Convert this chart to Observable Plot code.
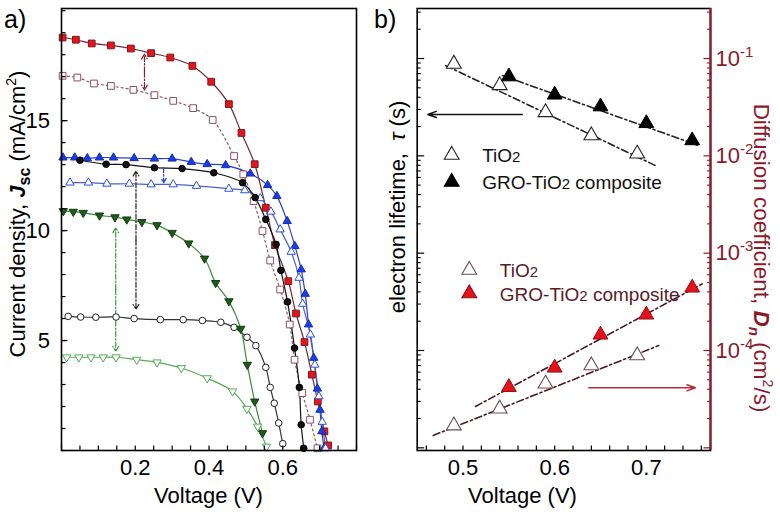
<!DOCTYPE html>
<html><head><meta charset="utf-8">
<script src="https://cdn.jsdelivr.net/npm/d3@7"></script>
<script src="https://cdn.jsdelivr.net/npm/@observablehq/plot@0.6"></script>
<style>
body{margin:0;background:#fff;}
#wrap{position:relative;width:780px;height:512px;}
#pa{position:absolute;left:0;top:0;}
#pb{position:absolute;left:370px;top:0;}
</style></head><body><div id="wrap"><div id="pa"></div><div id="pb"></div></div>
<script>
// ---------- Panel a: J-V curves ----------
const redSqV = [0.003,0.039,0.082,0.134,0.188,0.243,0.295,0.355,0.406,0.454,0.488,0.524,0.554,0.579,0.615,0.636,0.659,0.679,0.695,0.713,0.723];
const redSqJ = [18.78,18.68,18.51,18.42,18.28,18.07,17.87,17.49,16.77,15.75,14.44,13.02,11.04,9.34,7.70,6.23,4.93,3.45,2.23,0.87,0.23];
const openSqV = [0.003,0.043,0.088,0.134,0.195,0.252,0.303,0.357,0.410,0.468,0.493,0.521,0.545,0.566,0.593,0.619,0.632,0.653,0.674,0.694];
const openSqJ = [17.04,16.96,16.69,16.58,16.40,16.16,15.90,15.57,15.03,13.39,12.56,11.34,9.98,8.64,7.32,5.73,4.13,2.61,1.40,0.10];
const blueFV = [0.004,0.036,0.07,0.103,0.141,0.197,0.252,0.30,0.352,0.395,0.445,0.512,0.559,0.584,0.612,0.633,0.65,0.661,0.670,0.684,0.694,0.701,0.706,0.712];
const blueFJ = [13.32,13.32,13.29,13.32,13.32,13.29,13.27,13.27,13.12,13.02,12.97,12.59,12.07,11.57,10.43,9.29,8.23,7.12,5.73,4.21,2.81,1.85,0.87,0.1];
const blueOV = [0.023,0.073,0.123,0.184,0.243,0.303,0.366,0.454,0.497,0.539,0.568,0.593,0.623,0.644,0.654,0.675,0.687,0.698,0.707,0.716];
const blueOJ = [12.18,12.18,12.13,12.13,12.10,12.10,12.03,11.90,11.83,11.47,10.86,10.05,9.03,7.85,6.67,5.27,3.9,2.46,1.3,0.1];
const blackFV = [0.05,0.121,0.175,0.252,0.327,0.413,0.491,0.525,0.554,0.582,0.595,0.613,0.632,0.645,0.65,0.657];
const blackFJ = [13.2,13.02,13.0,12.86,12.82,12.63,12.18,11.5,10.51,9.37,8.19,6.76,4.66,2.87,1.17,0.1];
const blackOV = [0.018,0.052,0.093,0.148,0.197,0.268,0.33,0.382,0.432,0.468,0.503,0.527,0.554,0.566,0.577,0.589,0.60];
const blackOJ = [6.10,6.07,6.06,6.07,6.0,5.95,5.95,5.91,5.83,5.60,5.15,4.77,3.78,2.87,2.15,1.25,0.31];
const greenFV = [0.005,0.032,0.059,0.103,0.145,0.177,0.218,0.259,0.30,0.345,0.388,0.418,0.454,0.486,0.504,0.524,0.545];
const greenFJ = [10.89,10.86,10.81,10.69,10.61,10.51,10.39,10.25,9.90,9.42,8.73,7.62,6.79,5.54,3.90,2.23,0.79];
const greenOV = [0.014,0.047,0.08,0.113,0.148,0.204,0.259,0.325,0.395,0.464,0.503,0.532,0.556];
const greenOJ = [4.24,4.24,4.24,4.24,4.24,4.13,4.01,3.75,3.29,2.69,1.90,1.09,0.18];
// vertical double/single arrows between curves
const arrowAX = [0.225, 0.202, 0.147, 0.277];
const arrowALow = [16.39, 6.42, 4.51, 12.18];
const arrowAHigh = [18.03, 12.71, 10.13, 12.86];
const arrowAColor = ["#8b1a2a", "#222222", "#3a9a3a", "#2040d0"];
const arrowAUp = [true, true, true, false];
const arrowADown = [true, true, true, true];
const ticksAxMinor = d3.range(0, 0.801, 0.05);
const ticksAxLabels = [0.2, 0.4, 0.6];
const ticksAyMinor = d3.range(0, 20.1, 1);
const ticksAyLabels = [5, 10, 15];

// ---------- Panel b: lifetime & diffusion ----------
const tauTiV = [0.49, 0.54, 0.59, 0.64, 0.69];
const tauTi = [0.088, 0.053, 0.028, 0.0162, 0.0105];
const tauGroV = [0.55, 0.60, 0.65, 0.70, 0.75];
const tauGro = [0.0653, 0.0424, 0.0321, 0.0216, 0.0144];
const dnTiV = [0.49, 0.54, 0.59, 0.64, 0.69];
const dnTi = [1.69e-5, 2.52e-5, 4.55e-5, 7.02e-5, 8.89e-5];
const dnGroV = [0.55, 0.60, 0.65, 0.70, 0.75];
const dnGro = [4.2e-5, 6.64e-5, 1.45e-4, 2.33e-4, 4.41e-4];
// fitted lines (endpoints)
const fitTauTiV = [0.481, 0.710], fitTauTi = [0.0847, 0.00794];
const fitTauGroV = [0.543, 0.757], fitTauGro = [0.0668, 0.01276];
const fitDnTiV = [0.4675, 0.7136], fitDnTi = [1.34e-5, 1.125e-4];
const fitDnGroV = [0.5136, 0.761], fitDnGro = [2.66e-5, 4.84e-4];
// axis-pointing arrows
const arrowBX1 = [0.5646, 0.6372], arrowBX2 = [0.4616, 0.7536], arrowBY = [0.0266, 4.14e-5];
const arrowBColor = ["#111111", "#b0303a"];
const decadesB = [1e-5, 1e-4, 1e-3, 1e-2, 1e-1];
const decadeLabelsB = [1e-4, 1e-3, 1e-2, 1e-1];

const FONT = "Liberation Sans, Arial, Helvetica, sans-serif";
const DARKRED = "#8b1a2a";
const zip = (X, Y) => X.map((x, i) => ({x, y: Y[i]}));

const downTri = {draw(ctx, size) {
  const y = Math.sqrt(size / (Math.sqrt(3) * 3));
  ctx.moveTo(0, 2 * y); ctx.lineTo(-Math.sqrt(3) * y, -y); ctx.lineTo(Math.sqrt(3) * y, -y); ctx.closePath();
}};

const seriesA = [
  {d: zip(redSqV, redSqJ), line: "#6e2a3a", dash: null, sym: "square", r: 3.8, fill: "#e8141c", stroke: "#7a1a20"},
  {d: zip(openSqV, openSqJ), line: "#8a5868", dash: "2,3", sym: "square", r: 3.8, fill: "white", stroke: "#8a5060"},
  {d: zip(blueFV, blueFJ), line: "#2a40c8", dash: null, sym: "triangle", r: 3.1, fill: "#1a3cf0", stroke: "#1a2ea0"},
  {d: zip(blueOV, blueOJ), line: "#4a60c8", dash: null, sym: "triangle", r: 3.1, fill: "white", stroke: "#3050d0"},
  {d: zip(blackFV, blackFJ), line: "#111111", dash: null, sym: "circle", r: 3.3, fill: "#111111", stroke: "#000000"},
  {d: zip(blackOV, blackOJ), line: "#333333", dash: null, sym: "circle", r: 3.3, fill: "white", stroke: "#222222"},
  {d: zip(greenFV, greenFJ), line: "#3a8a3a", dash: null, sym: downTri, r: 3.1, fill: "#1e5a1a", stroke: "#143c10"},
  {d: zip(greenOV, greenOJ), line: "#58a858", dash: null, sym: downTri, r: 3.1, fill: "white", stroke: "#55aa55"}
];

const arrowsA = [];
arrowAX.forEach((x, i) => {
  const mid = (arrowALow[i] + arrowAHigh[i]) / 2;
  if (arrowAUp[i]) arrowsA.push({x, y1: mid, y2: arrowAHigh[i], c: arrowAColor[i]});
  if (arrowADown[i]) arrowsA.push({x, y1: arrowAUp[i] ? mid : arrowAHigh[i], y2: arrowALow[i], c: arrowAColor[i]});
});

const plotA = Plot.plot({
  width: 370, height: 512,
  marginLeft: 61, marginRight: 14, marginTop: 8, marginBottom: 62,
  x: {domain: [0, 0.8]},
  y: {domain: [0, 20.1]},
  style: {fontFamily: FONT, fontSize: "22px", color: "black", background: "white"},
  marks: [
    ...seriesA.map(s => Plot.line(s.d, {x: "x", y: "y", stroke: s.line, strokeWidth: 1.2, strokeDasharray: s.dash, curve: "catmull-rom"})),
    Plot.arrow(arrowsA, {x1: "x", x2: "x", y1: "y1", y2: "y2", stroke: "c", strokeWidth: 1.2, headLength: 7, strokeDasharray: "5,2,1.5,2"}),
    ...seriesA.map(s => Plot.dot(s.d, {x: "x", y: "y", symbol: s.sym, r: s.r, fill: s.fill, stroke: s.stroke, strokeWidth: 1})),
    Plot.axisX(ticksAxMinor, {tickSize: -4.5, tickFormat: () => "", label: null, strokeWidth: 1.2}),
    Plot.axisX(ticksAxLabels, {tickSize: 0, tickPadding: 9, tickFormat: d3.format(".1f"), label: null}),
    Plot.axisY(ticksAyMinor, {tickSize: -4.5, tickFormat: () => "", label: null, strokeWidth: 1.2}),
    Plot.axisY(ticksAyLabels, {tickSize: -6.5, tickPadding: 18, tickFormat: d3.format("d"), label: null, strokeWidth: 1.2}),
    Plot.frame({stroke: "black", strokeWidth: 1.6})
  ]
});
document.getElementById("pa").appendChild(plotA);

const minorB = decadesB.flatMap(d => d3.range(2, 10).map(k => k * d)).filter(v => v < 0.32);
const plotB = Plot.plot({
  width: 410, height: 512,
  marginLeft: 46.7, marginRight: 70, marginTop: 8, marginBottom: 62,
  x: {domain: [0.45, 0.77]},
  y: {type: "log", domain: [Math.pow(10, -5.0275), Math.pow(10, -0.486)]},
  style: {fontFamily: FONT, fontSize: "22px", color: "black", background: "white"},
  marks: [
    Plot.line(zip(fitTauTiV, fitTauTi), {x: "x", y: "y", stroke: "#222", strokeWidth: 1.6, strokeDasharray: "7,3,2,3"}),
    Plot.line(zip(fitTauGroV, fitTauGro), {x: "x", y: "y", stroke: "#222", strokeWidth: 1.6, strokeDasharray: "7,3,2,3"}),
    Plot.line(zip(fitDnTiV, fitDnTi), {x: "x", y: "y", stroke: "#4a1a22", strokeWidth: 1.6, strokeDasharray: "7,3,2,3"}),
    Plot.line(zip(fitDnGroV, fitDnGro), {x: "x", y: "y", stroke: "#4a1a22", strokeWidth: 1.6, strokeDasharray: "7,3,2,3"}),
    Plot.arrow(arrowBX1.map((x, i) => ({x1: x, x2: arrowBX2[i], y: arrowBY[i], c: arrowBColor[i]})),
      {x1: "x1", x2: "x2", y1: "y", y2: "y", stroke: "c", strokeWidth: 1.5, headLength: 9, headAngle: 40}),
    Plot.dot(zip(tauTiV, tauTi), {x: "x", y: "y", symbol: "triangle", r: 5.5, fill: "white", stroke: "#222", strokeWidth: 1.1}),
    Plot.dot(zip(tauGroV, tauGro), {x: "x", y: "y", symbol: "triangle", r: 5.5, fill: "#000", stroke: "#000", strokeWidth: 1}),
    Plot.dot(zip(dnTiV, dnTi), {x: "x", y: "y", symbol: "triangle", r: 5.5, fill: "white", stroke: "#6e4a55", strokeWidth: 1.1}),
    Plot.dot(zip(dnGroV, dnGro), {x: "x", y: "y", symbol: "triangle", r: 5.5, fill: "#e8101a", stroke: "#8a1010", strokeWidth: 1}),
    Plot.axisX(d3.range(0.46, 0.771, 0.02), {tickSize: -4.5, tickFormat: () => "", label: null, strokeWidth: 1.2}),
    Plot.axisX([0.5, 0.6, 0.7], {tickSize: 0, tickPadding: 9, tickFormat: d3.format(".1f"), label: null}),
    Plot.axisY(minorB, {anchor: "left", tickSize: -4, tickFormat: () => "", label: null, strokeWidth: 1.1}),
    Plot.axisY(decadesB, {anchor: "left", tickSize: -7.5, tickFormat: () => "", label: null, strokeWidth: 1.2}),
    Plot.frame({stroke: "black", strokeWidth: 1.6}),
    Plot.axisY(minorB, {anchor: "right", tickSize: -4, tickFormat: () => "", label: null, color: DARKRED, strokeWidth: 1.1}),
    Plot.axisY(decadesB, {anchor: "right", tickSize: -7.5, tickFormat: () => "", label: null, color: DARKRED, strokeWidth: 1.2}),
    Plot.axisY(decadeLabelsB, {anchor: "right", tickSize: 0, tickPadding: 5, tickFormat: d => "10^" + Math.round(Math.log10(d)), label: null, color: DARKRED, textAnchor: "start"}),
    Plot.ruleX([0.77], {stroke: DARKRED, strokeWidth: 2.2})
  ]
});
document.getElementById("pb").appendChild(plotB);

// superscript exponents on the right axis
d3.select(plotB).selectAll("text").each(function() {
  const s = this.textContent;
  if (s.startsWith("10^")) {
    const t = d3.select(this); t.text("");
    t.append("tspan").text("10");
    t.append("tspan").attr("dy", "-9").attr("font-size", "15px").text(s.slice(3));
  }
});

function addText(svg, {x, y, rotate = 0, anchor = "middle", size = 22, fill = "black", parts}) {
  const t = d3.select(svg).append("text")
    .attr("transform", `translate(${x},${y}) rotate(${rotate})`)
    .attr("text-anchor", anchor).attr("font-size", size).attr("fill", fill).attr("font-family", FONT);
  for (const p of parts) {
    const ts = t.append("tspan").text(p.t);
    if (p.style) ts.attr("font-style", p.style);
    if (p.weight) ts.attr("font-weight", p.weight);
    if (p.size) ts.attr("font-size", p.size);
    if (p.dy) ts.attr("dy", p.dy);
  }
}

// Panel a texts
addText(plotA, {x: 4, y: 28, anchor: "start", size: 25, parts: [{t: "a)"}]});
addText(plotA, {x: 208.5, y: 503, parts: [{t: "Voltage (V)"}]});
addText(plotA, {x: 25, y: 214, rotate: -90, parts: [
  {t: "Current density, "}, {t: "J", style: "italic", weight: "bold"},
  {t: "sc", weight: "bold", size: 16, dy: 5}, {t: " (mA/cm", dy: -5}, {t: "2", size: 14, dy: -9}, {t: ")", dy: 9}]});

// Panel b texts
addText(plotB, {x: 4, y: 28, anchor: "start", size: 25, parts: [{t: "b)"}]});
addText(plotB, {x: 152.5, y: 503, parts: [{t: "Voltage (V)"}]});
addText(plotB, {x: 35, y: 207, rotate: -90, parts: [
  {t: "electron lifetime,  "}, {t: "τ", style: "italic"}, {t: " (s)"}]});
addText(plotB, {x: 384, y: 258, rotate: 90, size: 22.5, fill: DARKRED, parts: [
  {t: "Diffusion coefficient, "}, {t: "D", style: "italic", weight: "bold"},
  {t: "n", style: "italic", weight: "bold", size: 15, dy: 5}, {t: " (cm", dy: -5}, {t: "2", size: 14, dy: -9}, {t: "/s)", dy: 9}]});

// legends
const leg = [
  {x: 81.7, y: 155, fill: "white", stroke: "#222", text: "TiO", color: "#111"},
  {x: 81.7, y: 182, fill: "#000", stroke: "#000", text: "GRO-TiO", tail: " composite", color: "#111"},
  {x: 99.3, y: 270, fill: "white", stroke: "#6e4a55", text: "TiO", color: "#5a1a26"},
  {x: 99.3, y: 293.5, fill: "#e8101a", stroke: "#8a1010", text: "GRO-TiO", tail: " composite", color: "#5a1a26"}
];
const gl = d3.select(plotB).append("g");
leg.forEach(l => {
  gl.append("path").attr("d", d3.symbol(d3.symbolTriangle, Math.PI * 5.5 * 5.5)())
    .attr("transform", `translate(${l.x},${l.y})`).attr("fill", l.fill).attr("stroke", l.stroke).attr("stroke-width", 1.1);
  const t = gl.append("text").attr("x", l.x + 30.5).attr("y", l.y + 7).attr("text-anchor", "start")
    .attr("font-family", FONT).attr("font-size", 19).attr("fill", l.color);
  t.append("tspan").text(l.text);
  t.append("tspan").attr("font-size", 15).text("2");
  if (l.tail) t.append("tspan").text(l.tail);
});
</script></body></html>
